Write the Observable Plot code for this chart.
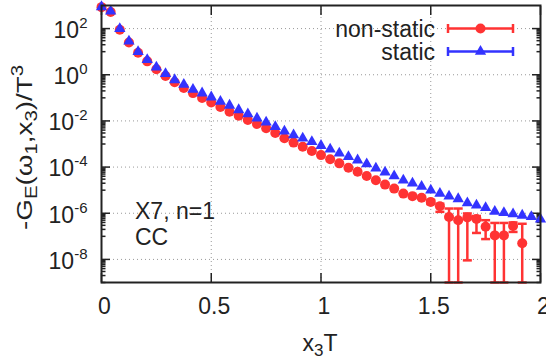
<!DOCTYPE html>
<html><head><meta charset="utf-8">
<script src="https://cdn.jsdelivr.net/npm/d3@7"></script>
<script src="https://cdn.jsdelivr.net/npm/@observablehq/plot@0.6"></script>
<style>body{margin:0;background:#fff}</style>
</head><body><div id="chart"></div>
<script>
// x3*T positions
const xT = [0, 0.0417, 0.0833, 0.125, 0.1667, 0.2083, 0.25, 0.2917, 0.3333, 0.375,
  0.4167, 0.4583, 0.5, 0.5417, 0.5833, 0.625, 0.6667, 0.7083, 0.75, 0.7917,
  0.8333, 0.875, 0.9167, 0.9583, 1, 1.0417, 1.0833, 1.125, 1.1667, 1.2083,
  1.25, 1.2917, 1.3333, 1.375, 1.4167, 1.4583, 1.5, 1.5417, 1.5833, 1.625,
  1.6667, 1.7083, 1.75, 1.7917, 1.8333, 1.875, 1.9167, 1.9583, 2];
// static
const staticG = [8.7e2, 5.6e2, 9.8e1, 2.8e1, 1.0e1, 4.5, 2.1, 1.1, 6.0e-1, 3.8e-1,
  2.3e-1, 1.6e-1, 1.07e-1, 6.9e-2, 4.7e-2, 3.0e-2, 2.0e-2, 1.3e-2, 8.7e-3, 5.6e-3,
  3.6e-3, 2.45e-3, 1.78e-3, 1.26e-3, 8.5e-4, 5.9e-4, 4.0e-4, 2.8e-4, 2.0e-4, 1.35e-4,
  8.9e-5, 6.0e-5, 4.1e-5, 2.7e-5, 2.0e-5, 1.45e-5, 1.0e-5, 7.2e-6, 5.5e-6, 4.2e-6,
  2.8e-6, 2.2e-6, 1.74e-6, 1.2e-6, 1.05e-6, 9.3e-7, 8.1e-7, 7.1e-7, 5.5e-7];
// non-static
const nonStaticG = [8.5e2, 5.2e2, 8.9e1, 2.5e1, 8.9, 3.8, 1.74, 8.9e-1, 4.7e-1, 2.7e-1,
  1.6e-1, 9.8e-2, 6.3e-2, 4.0e-2, 2.5e-2, 1.66e-2, 1.1e-2, 7.4e-3, 4.8e-3, 3.0e-3,
  1.78e-3, 1.15e-3, 7.6e-4, 5.0e-4, 3.3e-4, 2.2e-4, 1.45e-4, 9.3e-5, 6.3e-5, 4.1e-5,
  2.7e-5, 1.74e-5, 1.17e-5, 7.1e-6, 5.5e-6, 4.7e-6, 3.1e-6, 2.0e-6, 6.9e-7, 5.0e-7,
  6.6e-7, 5.6e-7, 2.6e-7, 1.1e-7, 1.1e-7, 2.8e-7, 5.0e-8, null, null];
// non-static error bars (0 = below the axis); null = hidden under marker
const errLo = [null, null, null, null, null, null, null, null, null, null,
  null, null, null, null, null, null, null, null, null, null,
  null, null, null, null, null, null, null, null, null, null,
  null, null, null, null, null, null, 2.5e-6, 1.15e-6, 0, 0,
  9.1e-9, 1.4e-7, 7.6e-8, 0, 0, 1.55e-7, 0, null, null];
const errHi = [null, null, null, null, null, null, null, null, null, null,
  null, null, null, null, null, null, null, null, null, null,
  null, null, null, null, null, null, null, null, null, null,
  null, null, null, null, null, null, 3.7e-6, 2.6e-6, 1.6e-6, 1.6e-6,
  9.8e-7, 7.6e-7, 5.0e-7, 3.8e-7, 3.8e-7, 4.0e-7, 3.5e-7, null, null];
const xTicks = [0, 0.5, 1, 1.5, 2];
const yMajor = [1e-8, 1e-6, 1e-4, 1e-2, 1, 1e2];
const seriesNames = ["non-static", "static"];
const yDomain = [1e-9, 1e3];

const red = "#ff3333", blue = "#3333ff", ink = "#222";
const FONT = "'Liberation Sans', Arial, sans-serif";
const FS = 23;

const yMinor = [];
for (let e = -9; e <= 1; e += 2) for (let m = 1; m <= 9; m++) yMinor.push(m * Math.pow(10, e));

const stat = xT.map((x, i) => ({x, v: staticG[i]}));
const nonStat = xT.map((x, i) => ({x, v: nonStaticG[i]})).filter(d => d.v != null);
const errs = xT.map((x, i) => ({x, lo: errLo[i], hi: errHi[i]}))
  .filter(d => d.hi != null)
  .map(d => ({x: d.x, lo: Math.max(d.lo, yDomain[0]), hi: d.hi}));

const cap = {draw(ctx) { ctx.moveTo(-4.5, 0); ctx.lineTo(4.5, 0); }};

const plot = Plot.plot({
  width: 546, height: 360,
  marginLeft: 101, marginRight: 6, marginTop: 5, marginBottom: 78,
  style: {fontFamily: FONT, fontSize: FS + "px", color: ink, background: "#fff"},
  x: {domain: [0, 2]},
  y: {type: "log", domain: yDomain},
  marks: [
    Plot.ruleX(xTicks.slice(1, -1), {stroke: "#999", strokeDasharray: "1,3", strokeWidth: 1}),
    Plot.ruleY(yMajor, {stroke: "#999", strokeDasharray: "1,3", strokeWidth: 1}),
    Plot.axisX(xTicks, {anchor: "bottom", tickSize: 0, tickPadding: 15, dx: 3, label: null,
      tickFormat: d => String(d)}),
    Plot.axisX(xTicks, {anchor: "bottom", tickSize: -9, fill: "none", label: null, stroke: ink, strokeWidth: 1.5}),
    Plot.axisX(xTicks, {anchor: "top", tickSize: -9, fill: "none", label: null, stroke: ink, strokeWidth: 1.5}),
    Plot.axisY(yMajor, {anchor: "left", tickSize: 0, tickPadding: 14, dy: 2, label: null,
      tickFormat: d => "10^" + Math.round(Math.log10(d))}),
    Plot.axisY(yMajor, {anchor: "left", tickSize: -9, fill: "none", label: null, stroke: ink, strokeWidth: 1.5}),
    Plot.axisY(yMajor, {anchor: "right", tickSize: -9, fill: "none", label: null, stroke: ink, strokeWidth: 1.5}),
    Plot.axisY(yMinor, {anchor: "left", tickSize: -4.5, fill: "none", label: null, stroke: ink, strokeWidth: 1.5}),
    Plot.axisY(yMinor, {anchor: "right", tickSize: -4.5, fill: "none", label: null, stroke: ink, strokeWidth: 1.5}),
    Plot.ruleX(errs, {x: "x", y1: "lo", y2: "hi", stroke: red, strokeWidth: 2.5}),
    Plot.dot(errs, {x: "x", y: "hi", symbol: cap, fill: "none", stroke: red, strokeWidth: 2.5}),
    Plot.dot(errs, {x: "x", y: "lo", symbol: cap, fill: "none", stroke: red, strokeWidth: 2.5}),
    Plot.dot(nonStat, {x: "x", y: "v", r: 5, fill: red, stroke: "none"}),
    Plot.dot(stat, {x: "x", y: "v", symbol: "triangle", r: 4.2, fill: blue, stroke: "none"}),
    Plot.frame({stroke: ink, strokeWidth: 2})
  ]
});

const svg = d3.select(plot);
// superscript exponents on y tick labels
svg.selectAll('g[aria-label="y-axis tick label"] text').each(function () {
  const [b, e] = this.textContent.split("^");
  this.textContent = "";
  const t = d3.select(this);
  t.append("tspan").text(b);
  t.append("tspan").attr("font-size", 15).attr("dy", -10).text(e);
});

// legend
const lg = svg.append("g").attr("font-family", FONT).attr("font-size", FS).attr("fill", ink);
[[seriesNames[0], red, 28.5, "circle"], [seriesNames[1], blue, 51.5, "triangle"]].forEach(([name, col, y, sym]) => {
  lg.append("text").attr("x", 435).attr("y", y).attr("dy", "0.35em").attr("text-anchor", "end").text(name);
  const g = lg.append("g").attr("stroke", col).attr("stroke-width", 2.5);
  g.append("line").attr("x1", 448).attr("x2", 513).attr("y1", y).attr("y2", y);
  g.append("line").attr("x1", 448).attr("x2", 448).attr("y1", y - 4.5).attr("y2", y + 4.5);
  g.append("line").attr("x1", 513).attr("x2", 513).attr("y1", y - 4.5).attr("y2", y + 4.5);
  if (sym === "circle") lg.append("circle").attr("cx", 480.5).attr("cy", y).attr("r", 5).attr("fill", col);
  else lg.append("path").attr("transform", `translate(480.5,${y})`).attr("d", d3.symbol(d3.symbolTriangle, 55)()).attr("fill", col);
});

// annotations
const an = svg.append("g").attr("font-family", FONT).attr("font-size", FS).attr("fill", ink);
an.append("text").attr("x", 135).attr("y", 219).attr("text-anchor", "start").text("X7, n=1");
an.append("text").attr("x", 135).attr("y", 245).attr("text-anchor", "start").text("CC");

// axis titles
const xl = an.append("text").attr("x", 320).attr("y", 351).attr("text-anchor", "middle");
xl.append("tspan").text("x");
xl.append("tspan").attr("font-size", 17).attr("dy", 5).text("3");
xl.append("tspan").attr("dy", -5).text("T");

const yl = an.append("text").attr("transform", "translate(32,147.5) rotate(-90)")
  .attr("text-anchor", "middle").attr("font-size", 22)
  .attr("textLength", 165).attr("lengthAdjust", "spacingAndGlyphs");
yl.append("tspan").text("-G");
yl.append("tspan").attr("font-size", 16).attr("dy", 5).text("E");
yl.append("tspan").attr("dy", -5).text("(\u03c9");
yl.append("tspan").attr("font-size", 16).attr("dy", 5).text("1");
yl.append("tspan").attr("dy", -5).text(",x");
yl.append("tspan").attr("font-size", 16).attr("dy", 5).text("3");
yl.append("tspan").attr("dy", -5).text(")/T");
yl.append("tspan").attr("font-size", 16).attr("dy", -9).text("3");

document.getElementById("chart").appendChild(plot);
</script>
</body></html>
